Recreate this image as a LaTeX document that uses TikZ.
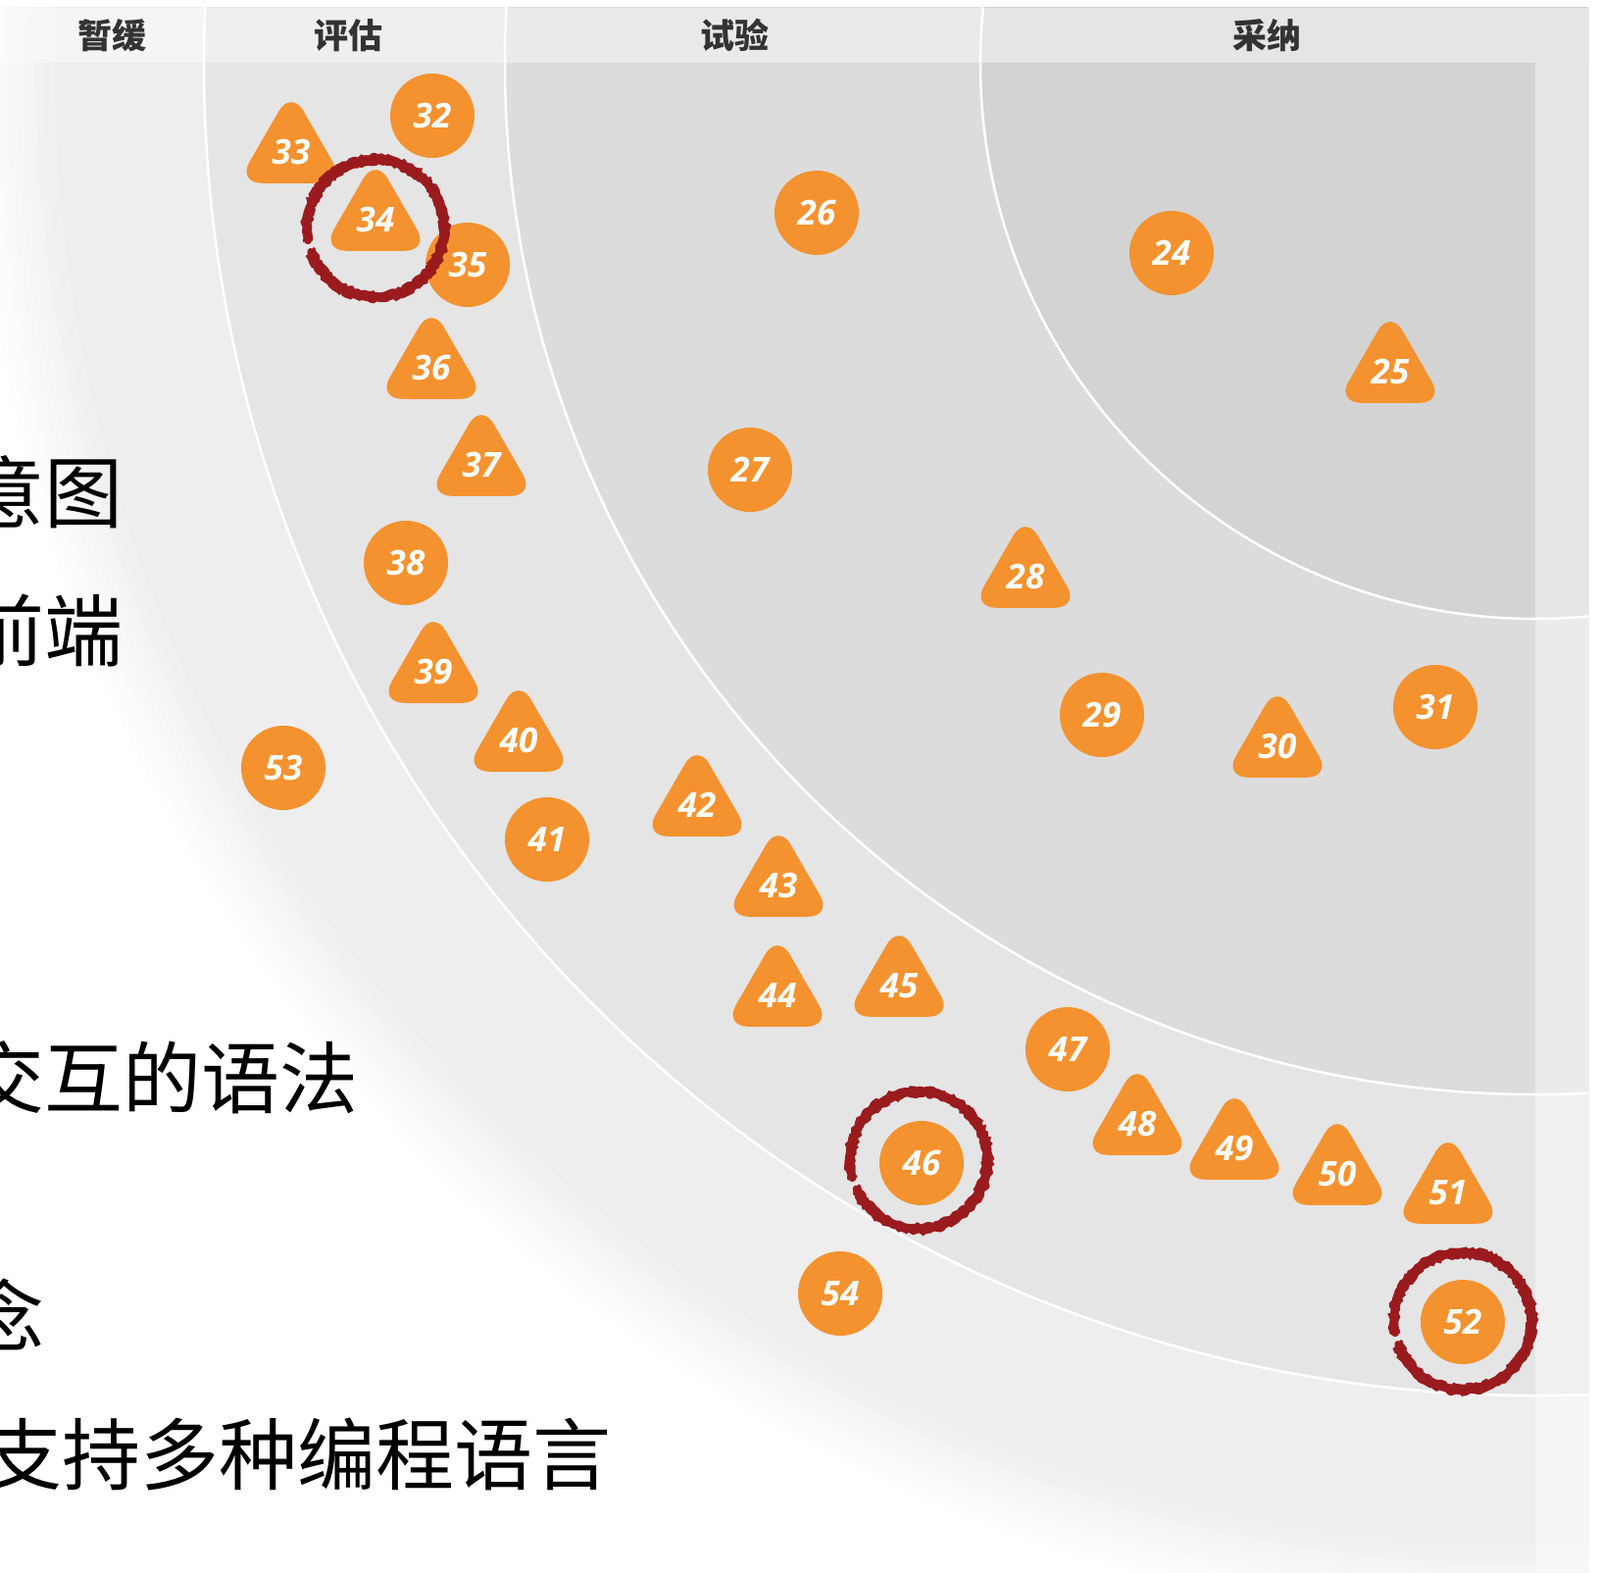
\documentclass[tikz,border=0pt]{standalone}
\usepackage{fontspec}
\setmainfont{Open Sans}
\newfontfamily\cjk{Noto Sans CJK SC}
\newfontfamily\numfont{Open Sans}
\usetikzlibrary{shapes.geometric,decorations.pathmorphing}
\definecolor{ringA}{HTML}{D3D3D3}
\definecolor{ringT}{HTML}{DCDCDC}
\definecolor{ringE}{HTML}{E5E5E5}
\definecolor{ringH}{HTML}{EEEEEE}
\definecolor{mkorange}{HTML}{F4922F}
\definecolor{inkred}{HTML}{9A1B1E}
\definecolor{hdrtext}{HTML}{333333}
\begin{document}
\begin{tikzpicture}[x=1pt,y=-1pt,
  numtxt/.style={text=white, font=\numfont\bfseries\itshape\fontsize{35pt}{35pt}\selectfont},
  circ/.style={circle, fill=mkorange, minimum size=86pt, inner sep=0pt, numtxt},
  tri/.style={regular polygon, regular polygon sides=3, fill=mkorange, minimum size=127pt, inner sep=0pt, rounded corners=25pt, numtxt},
  hdr/.style={text=hdrtext, inner sep=0pt, font=\cjk\bfseries\fontsize{35pt}{35pt}\selectfont},
  body/.style={anchor=base west, inner sep=0pt, text=black, font=\cjk\fontsize{80pt}{80pt}\selectfont},
  redring/.style={draw=inkred, line width=8pt, line cap=round},
  roughring/.style={draw=inkred, line width=3pt, line cap=round, decorate, decoration={random steps, segment length=3pt, amplitude=1.6pt}},
  ringline/.style={draw=white, line width=2.5pt}
]
\useasboundingbox (0,0) rectangle (1632,1603);
\clip (0,0) rectangle (1632,1603);
\fill[white] (0,0) rectangle (1632,1603);
\coordinate (C) at (1566,65);
\begin{scope}
  \clip (0,8) rectangle (1620,1603);
  \foreach \r/\p in {1600/0,1590/10,1580/20,1570/32,1560/44,1550/56,1540/68,1530/80,1520/90,1510/100}
    {\fill[ringH!\p!white] (C) circle[radius=\r];}
  \fill[ringE] (C) circle[radius=1358];
  \fill[ringT] (C) circle[radius=1051];
  \fill[ringA] (C) circle[radius=566];
  \draw[ringline] (C) circle[radius=566];
  \draw[ringline] (C) circle[radius=1051];
  \draw[ringline] (C) circle[radius=1358];
  \fill[white, opacity=0.42] (0,8) rectangle (1620,64);
  \fill[white, opacity=0.45] (1566,64) rectangle (1620,1603);
\end{scope}

% headers
\node[hdr] (h1) at (114,36) {暂缓};
\node[hdr] (h2) at (355,36) {评估};
\node[hdr] (h3) at (749,36) {试验};
\node[hdr] (h4) at (1292,36) {采纳};

% circle markers
\node[circ] (m32) at (441,118) {32};
\node[circ] (m35) at (477,270) {35};
\node[circ] (m26) at (833,217) {26};
\node[circ] (m24) at (1195,258) {24};
\node[circ] (m27) at (765,479) {27};
\node[circ] (m38) at (414,574) {38};
\node[circ] (m29) at (1124,729) {29};
\node[circ] (m31) at (1464,721) {31};
\node[circ] (m53) at (289,783) {53};
\node[circ] (m41) at (558,856) {41};
\node[circ] (m47) at (1089,1070) {47};
\node[circ] (m46) at (940,1186) {46};
\node[circ] (m54) at (857,1319) {54};
\node[circ] (m52) at (1492,1348) {52};

% triangle markers
\node[tri] (m33) at (297,155) {33};
\node[tri] (m34) at (383,224) {34};
\node[tri] (m25) at (1418,379) {25};
\node[tri] (m36) at (440,375) {36};
\node[tri] (m37) at (491,474) {37};
\node[tri] (m28) at (1046,588) {28};
\node[tri] (m39) at (442,685) {39};
\node[tri] (m40) at (529,755) {40};
\node[tri] (m30) at (1303,761) {30};
\node[tri] (m42) at (711,821) {42};
\node[tri] (m43) at (794,903) {43};
\node[tri] (m44) at (793,1015) {44};
\node[tri] (m45) at (917,1005) {45};
\node[tri] (m48) at (1160,1146) {48};
\node[tri] (m49) at (1259,1171) {49};
\node[tri] (m50) at (1364,1197) {50};
\node[tri] (m51) at (1477,1216) {51};

% hand-drawn red rings
\foreach \cx/\cy/\a in {383/233/170, 937/1183/165, 1492/1347/170}{
  \draw[redring] (\cx,\cy) ++(\a:70) arc[start angle=\a, end angle=\a+350, radius=70];
  \draw[roughring] (\cx,\cy) ++(\a:74) arc[start angle=\a, end angle=\a+348, radius=74];
  \draw[roughring] (\cx,\cy) ++(\a:66) arc[start angle=\a, end angle=\a+352, radius=66];
}

% left text (cut off at the left edge, as in the picture)
\node[body] (t1) at (-35,532) {意图};
\node[body] (t2) at (-35,673) {前端};
\node[body] (t3) at (-35,1129) {交互的语法};
\node[body] (t4) at (-35,1372) {念};
\node[body] (t5) at (-17,1513) {支持多种编程语言};
\end{tikzpicture}
\end{document}
